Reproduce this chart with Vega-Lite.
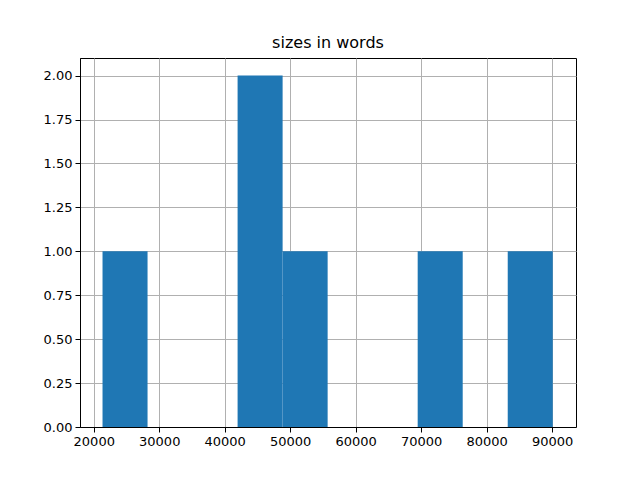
{
  "$schema": "https://vega.github.io/schema/vega-lite/v6.json",
  "width": 496,
  "height": 369,
  "autosize": "none",
  "padding": {"left": 80, "top": 58, "right": 64, "bottom": 53},
  "background": "white",
  "title": {"text": "sizes in words", "font": "DejaVu Sans", "fontSize": 16, "fontWeight": "normal", "color": "black", "anchor": "middle", "offset": 7},
  "config": {
    "view": {"stroke": "black", "strokeWidth": 1},
    "axis": {
      "zindex": 1,
      "grid": true,
      "gridColor": "#b0b0b0",
      "gridWidth": 1,
      "domainColor": "black",
      "domainWidth": 1,
      "tickColor": "black",
      "tickSize": 5,
      "labelFont": "DejaVu Sans",
      "labelFontSize": 13,
      "labelColor": "black",
      "labelPadding": 3,
      "title": null
    }
  },
  "data": {
    "values": [
      {"bin_start": 21340, "bin_end": 28216, "count": 1},
      {"bin_start": 28216, "bin_end": 35092, "count": 0},
      {"bin_start": 35092, "bin_end": 41968, "count": 0},
      {"bin_start": 41968, "bin_end": 48844, "count": 2},
      {"bin_start": 48844, "bin_end": 55720, "count": 1},
      {"bin_start": 55720, "bin_end": 62596, "count": 0},
      {"bin_start": 62596, "bin_end": 69472, "count": 0},
      {"bin_start": 69472, "bin_end": 76348, "count": 1},
      {"bin_start": 76348, "bin_end": 83224, "count": 0},
      {"bin_start": 83224, "bin_end": 90100, "count": 1}
    ]
  },
  "mark": {"type": "bar", "color": "#1f77b4", "orient": "vertical"},
  "encoding": {
    "x": {
      "field": "bin_start",
      "type": "quantitative",
      "scale": {"domain": [17900, 93650], "nice": false, "zero": false, "padding": 0},
      "axis": {"values": [20000, 30000, 40000, 50000, 60000, 70000, 80000, 90000], "format": "d", "labelAngle": 0}
    },
    "x2": {"field": "bin_end"},
    "y": {
      "field": "count",
      "type": "quantitative",
      "scale": {"domain": [0, 2.1], "nice": false, "padding": 0},
      "axis": {"values": [0, 0.25, 0.5, 0.75, 1, 1.25, 1.5, 1.75, 2], "format": ".2f"}
    },
    "y2": {"datum": 0}
  }
}
